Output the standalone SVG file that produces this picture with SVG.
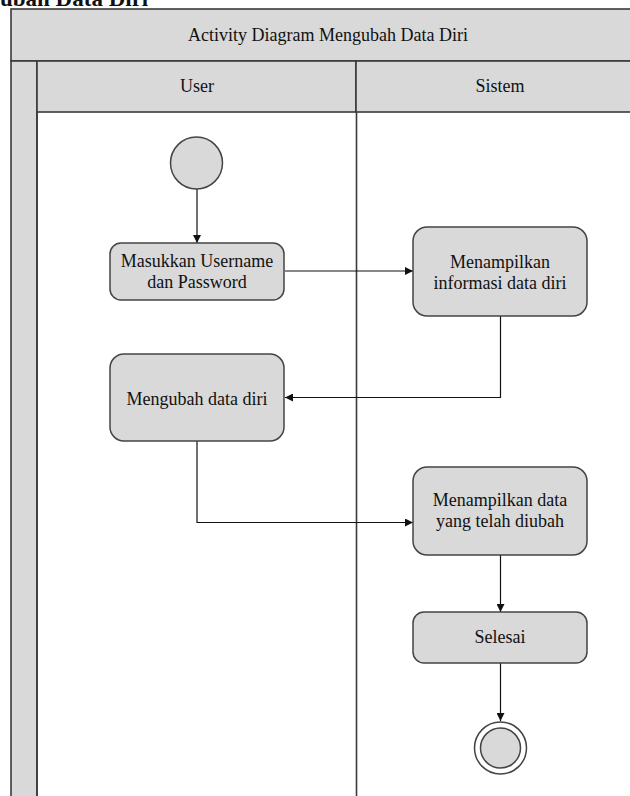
<svg xmlns="http://www.w3.org/2000/svg" width="630" height="796" viewBox="0 0 630 796">
  <style>
    .lane { fill: #d9d9d9; stroke: #3a3a3a; stroke-width: 1.6; }
    .act { fill: #d9d9d9; stroke: #444; stroke-width: 1.5; }
    .lbl { font-family: 'Liberation Serif', serif; font-size: 18px; fill: #111; text-anchor: middle; }
    .edge { fill: none; stroke: #111; stroke-width: 1.2; }
  </style>
  <defs>
    <marker id="arrow" viewBox="0 0 10 10" refX="10" refY="5" markerWidth="8" markerHeight="8" markerUnits="userSpaceOnUse" orient="auto">
      <path d="M0,0 L10,5 L0,10 Z" fill="#111"/>
    </marker>
  </defs>
  <rect width="630" height="796" fill="#fff"/>

  <!-- section caption, cut at the top edge -->
  <text x="0" y="6" font-family="Liberation Serif, serif" font-size="23" font-weight="bold" fill="#111">ubah Data Diri</text>

  <!-- swimlane frame -->
  <g id="pool">
    <rect class="lane" x="11" y="9" width="640" height="52"/>
    <text class="lbl" x="328" y="41">Activity Diagram Mengubah Data Diri</text>
    <rect class="lane" x="11" y="61" width="26" height="750"/>
    <rect class="lane" x="37" y="61" width="319" height="51"/>
    <rect class="lane" x="356" y="61" width="295" height="51"/>
    <text class="lbl" x="197" y="92">User</text>
    <text class="lbl" x="500" y="92">Sistem</text>
    <line x1="37" y1="112" x2="37" y2="800" stroke="#3a3a3a" stroke-width="1.6"/>
    <line x1="356.5" y1="112" x2="356.5" y2="800" stroke="#3a3a3a" stroke-width="1.6"/>
  </g>

  <!-- connectors -->
  <g id="connectors">
    <path class="edge" d="M197,189 V243" marker-end="url(#arrow)"/>
    <path class="edge" d="M285,271 H413" marker-end="url(#arrow)"/>
    <path class="edge" d="M500.5,316 V397.5 H285" marker-end="url(#arrow)"/>
    <path class="edge" d="M197,441 V522.5 H413" marker-end="url(#arrow)"/>
    <path class="edge" d="M500.5,555 V612" marker-end="url(#arrow)"/>
    <path class="edge" d="M500.5,663 V721" marker-end="url(#arrow)"/>
  </g>

  <g id="start">
    <circle cx="196.5" cy="163" r="26" class="act"/>
  </g>

  <g id="login">
    <rect class="act" x="110" y="243" width="174" height="57" rx="11"/>
    <text class="lbl" x="197" y="267">Masukkan Username</text>
    <text class="lbl" x="197" y="288">dan Password</text>
  </g>

  <g id="show-info">
    <rect class="act" x="413" y="227" width="174" height="89" rx="14"/>
    <text class="lbl" x="500" y="268">Menampilkan</text>
    <text class="lbl" x="500" y="289">informasi data diri</text>
  </g>

  <g id="edit">
    <rect class="act" x="110" y="354" width="174" height="87" rx="14"/>
    <text class="lbl" x="197" y="405">Mengubah data diri</text>
  </g>

  <g id="show-updated">
    <rect class="act" x="413" y="467" width="174" height="88" rx="14"/>
    <text class="lbl" x="500" y="506">Menampilkan data</text>
    <text class="lbl" x="500" y="527">yang telah diubah</text>
  </g>

  <g id="done">
    <rect class="act" x="413" y="612" width="174" height="51" rx="11"/>
    <text class="lbl" x="500" y="643">Selesai</text>
  </g>

  <g id="end">
    <circle cx="500.5" cy="748" r="26" fill="#fff" stroke="#444" stroke-width="1.5"/>
    <circle cx="500.5" cy="748" r="20" class="act"/>
  </g>
</svg>
